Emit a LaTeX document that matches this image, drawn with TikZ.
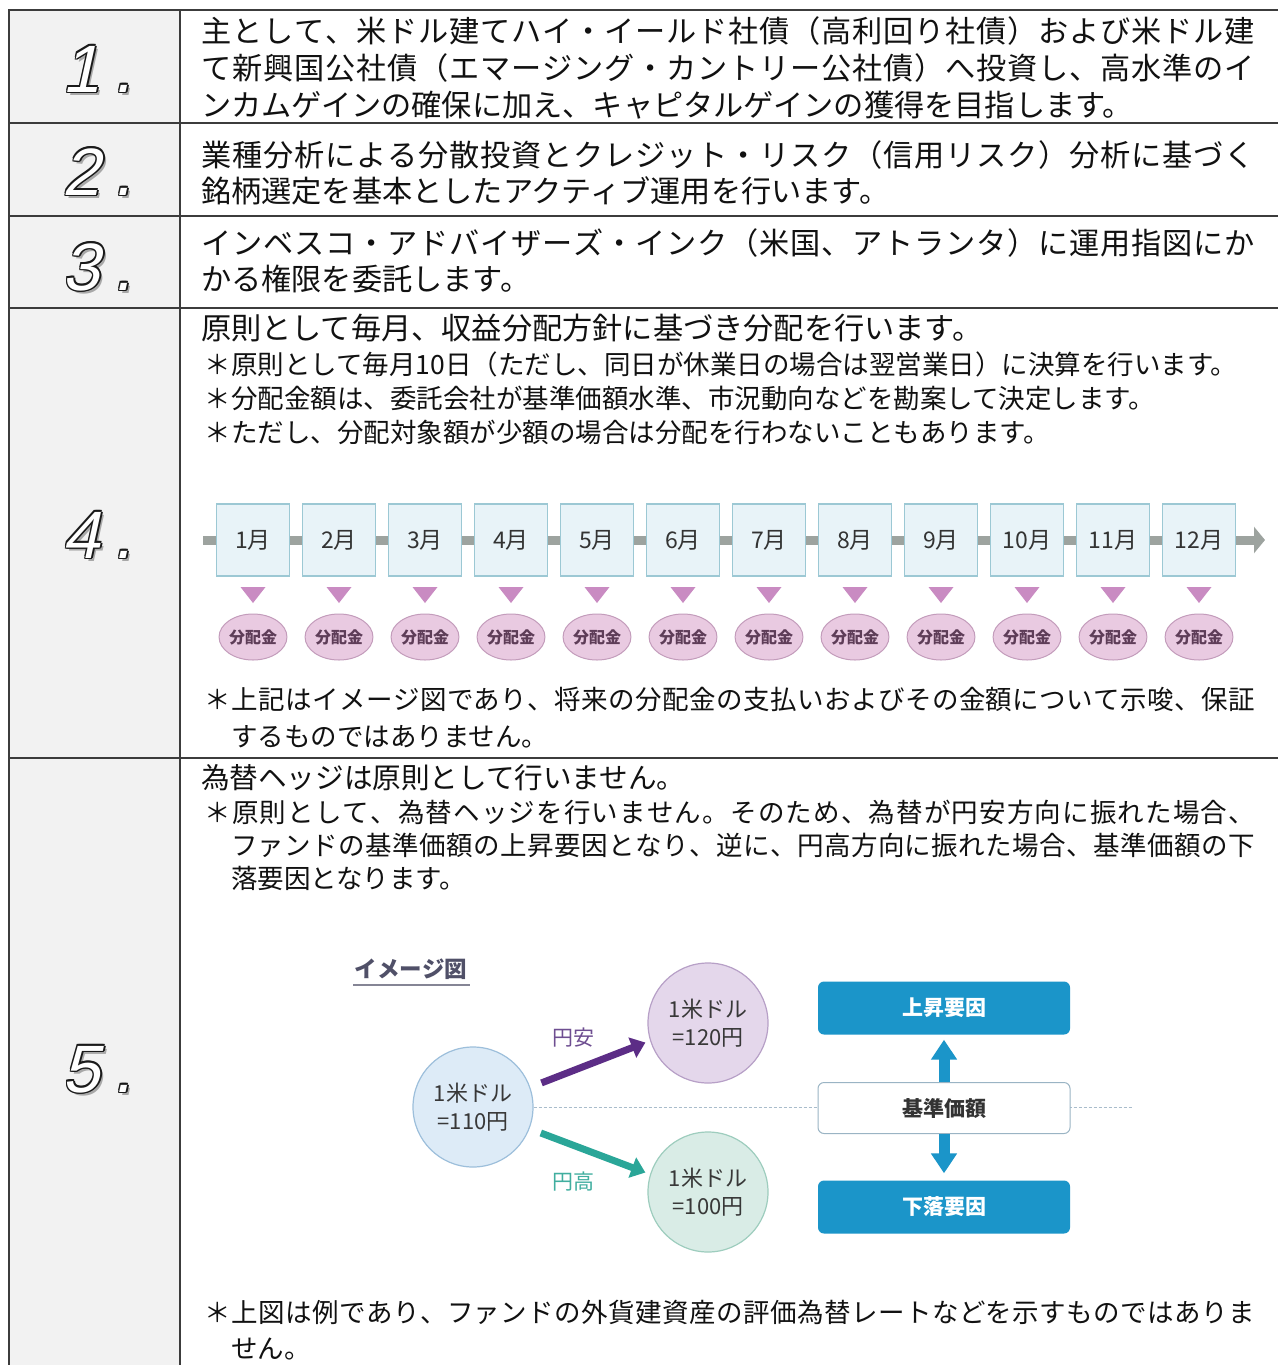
\documentclass[tikz,border=0pt]{standalone}
\usepackage{fontspec}
\setmainfont{Noto Sans CJK JP}
\newfontfamily\digitfnt[FakeSlant=0.22]{Liberation Sans}
\usetikzlibrary{arrows.meta,shapes.geometric,calc}

\def\sprdEnd{}
\def\sprd#1{\sprdA#1\sprdEnd}
\def\sprdA#1{\ifx#1\sprdEnd\else#1\expandafter\sprdB\fi}
\def\sprdB#1{\ifx#1\sprdEnd\else\hfil#1\expandafter\sprdB\fi}
\newcommand\jl[2]{\hbox to #1{\sprd{#2}}}

\definecolor{tblc}{HTML}{3C3C3C}
\definecolor{leftfill}{HTML}{F2F2F2}
\definecolor{textc}{HTML}{111111}
\definecolor{numshadow}{HTML}{A8A8A8}
\definecolor{numline}{HTML}{1A1A1A}
\definecolor{mfill}{HTML}{E8F3F8}
\definecolor{mdraw}{HTML}{9CC8D4}
\definecolor{tlgray}{HTML}{9DA39F}
\definecolor{tripink}{HTML}{C98BC2}
\definecolor{efill}{HTML}{E9CAE1}
\definecolor{edraw}{HTML}{C39CBB}
\definecolor{etext}{HTML}{5E3D58}
\definecolor{cblue}{HTML}{DDEBF7}
\definecolor{cbluedraw}{HTML}{9DBFDB}
\definecolor{cpurple}{HTML}{E4D7EB}
\definecolor{cpurpledraw}{HTML}{B7A0C7}
\definecolor{cgreen}{HTML}{D9ECE6}
\definecolor{cgreendraw}{HTML}{9ECDBE}
\definecolor{parrow}{HTML}{5C2D86}
\definecolor{tarrow}{HTML}{2AA698}
\definecolor{ptext}{HTML}{6E4E91}
\definecolor{ttext}{HTML}{40AE9F}
\definecolor{bbox}{HTML}{1B95C9}
\definecolor{kdraw}{HTML}{9AB4C4}
\definecolor{dotc}{HTML}{A9BCCB}
\definecolor{imgtext}{HTML}{505068}

\tikzset{
  tbl/.style={draw=tblc, line width=2.4pt},
  txt/.style={anchor=base west, inner sep=0pt, outer sep=0pt, text=textc},
  mainA/.style={txt, font=\fontsize{30.2}{36}\selectfont},
  mainB/.style={txt, font=\fontsize{28.6}{34}\selectfont},
  noteA/.style={txt, font=\fontsize{26.5}{31}\selectfont},
  digitA/.style={anchor=base west, inner sep=0pt, outer sep=0pt, font=\digitfnt\fontsize{67}{67}\selectfont},
  monthbox/.style={draw=mdraw, fill=mfill, line width=1.2pt, minimum width=73pt, minimum height=72pt, inner sep=0pt, text=black!80, font=\fontsize{23}{23}\selectfont},
  divell/.style={ellipse, draw=edraw, fill=efill, line width=1pt, minimum width=66pt, minimum height=46pt, inner sep=0pt, text=etext, font=\bfseries\fontsize{16}{16}\selectfont},
  ratecirc/.style={circle, minimum size=120pt, line width=1.2pt, inner sep=0pt, align=center, text=black!78, font=\fontsize{22}{28}\selectfont},
  facbox/.style={rounded corners=6pt, minimum width=252pt, minimum height=53pt, inner sep=0pt, fill=bbox, text=white, font=\bfseries\fontsize{21}{21}\selectfont},
  fatarrow/.style={line width=7pt, -{Triangle[length=14pt,width=21pt]}},
  bluearrow/.style={draw=bbox, line width=11pt, -{Triangle[length=20pt,width=25pt]}},
}

\begin{document}
\begin{tikzpicture}[x=1pt,y=-1pt]
\useasboundingbox (0,0) rectangle (1278,1365);
\fill[white] (0,0) rectangle (1278,1365);
\fill[leftfill] (9,10) rectangle (180,1365);

% table lines
\draw[tbl] (9,1366) -- (9,10) -- (1278,10);
\draw[tbl] (180,10) -- (180,1366);
\foreach \yy in {123,216,308,758} \draw[tbl] (9,\yy) -- (1278,\yy);

% outlined numbers (gray shadow, dark outline ring, white face)
\foreach \n/\yy in {1/92,2/195,3/290,4/558,5/1092} {
  \node[digitA, text=numshadow] (sh\n) at ($(62.5,\yy)+(3,3)$) {\n\hspace{14pt}.};
  \foreach \a in {0,45,...,315}
    \node[digitA, text=numline] (ol\n-\a) at ($(62.5,\yy)+(\a:1.5)$) {\n\hspace{14pt}.};
  \node[digitA, text=white] (num\n) at (62.5,\yy) {\n\hspace{14pt}.};
}

% row 1
\node[mainA] (r1a) at (201,42.5) {\jl{1054pt}{主として、米ドル建てハイ・イールド社債（高利回り社債）および米ドル建}};
\node[mainA] (r1b) at (201,79.5) {\jl{1054pt}{て新興国公社債（エマージング・カントリー公社債）へ投資し、高水準のイ}};
\node[mainA] (r1c) at (201,116.5) {ンカムゲインの確保に加え、キャピタルゲインの獲得を目指します。};
% row 2
\node[mainA] (r2a) at (201,166.5) {\jl{1054pt}{業種分析による分散投資とクレジット・リスク（信用リスク）分析に基づく}};
\node[mainA] (r2b) at (201,202.5) {銘柄選定を基本としたアクティブ運用を行います。};
% row 3
\node[mainA] (r3a) at (201,254.5) {\jl{1054pt}{インベスコ・アドバイザーズ・インク（米国、アトランタ）に運用指図にか}};
\node[mainA] (r3b) at (201,290.5) {かる権限を委託します。};
% row 4
\node[mainA] (r4a) at (201,339.5) {原則として毎月、収益分配方針に基づき分配を行います。};
\node[noteA] (r4b) at (204.5,374) {＊原則として毎月10日（ただし、同日が休業日の場合は翌営業日）に決算を行います。};
\node[noteA] (r4c) at (204.5,408) {＊分配金額は、委託会社が基準価額水準、市況動向などを勘案して決定します。};
\node[noteA] (r4d) at (204.5,442) {＊ただし、分配対象額が少額の場合は分配を行わないこともあります。};

% timeline
\coordinate (tlstart) at (203,540);
\coordinate (tlend) at (1265,540);
\draw[tlgray, line width=9pt, -{Triangle[length=11pt,width=26pt]}] (tlstart) -- (tlend);
\foreach \i in {1,...,12} {
  \node[monthbox] (m\i) at ({253+86*(\i-1)},540) {\i{}月};
  \fill[tripink] ({253+86*(\i-1)-12.5},587) -- ({253+86*(\i-1)+12.5},587) -- ({253+86*(\i-1)},603) -- cycle;
  \node[divell] (d\i) at ({253+86*(\i-1)},637) {分配金};
}

\node[noteA] (r4e) at (204.5,709) {\jl{1050.5pt}{＊上記はイメージ図であり、将来の分配金の支払いおよびその金額について示唆、保証}};
\node[noteA] (r4f) at (231,746) {するものではありません。};

% row 5
\node[mainB] (r5a) at (201,788) {為替ヘッジは原則として行いません。};
\node[noteA] (r5b) at (204.5,822) {\jl{1050.5pt}{＊原則として、為替ヘッジを行いません。そのため、為替が円安方向に振れた場合、}};
\node[noteA] (r5c) at (231,855) {\jl{1024pt}{ファンドの基準価額の上昇要因となり、逆に、円高方向に振れた場合、基準価額の下}};
\node[noteA] (r5d) at (231,888) {落要因となります。};

% currency diagram
\node[text=imgtext, inner sep=0pt, font=\bfseries\fontsize{22.5}{22.5}\selectfont] (imgtitle) at (411,969) {イメージ図};
\draw[imgtext!70, line width=1.6pt] (353,985) -- (470,985);

\node[ratecirc, fill=cblue, draw=cbluedraw] (c110) at (473,1107) {1米ドル\\=110円};
\node[ratecirc, fill=cpurple, draw=cpurpledraw] (c120) at (708,1023) {1米ドル\\=120円};
\node[ratecirc, fill=cgreen, draw=cgreendraw] (c100) at (708,1192) {1米ドル\\=100円};

\coordinate (dotend) at (1133,1107);
\draw[dotc, line width=1pt, dash pattern=on 3pt off 2pt] (c110.east) -- (dotend);

\draw[fatarrow, parrow, shorten <=12pt, shorten >=5pt] (c110.19) -- (c120.197);
\draw[fatarrow, tarrow, shorten <=12pt, shorten >=5pt] (c110.-21) -- (c100.163);
\node[text=ptext, inner sep=0pt, font=\fontsize{21}{21}\selectfont] (yasu) at (573,1038) {円安};
\node[text=ttext, inner sep=0pt, font=\fontsize{21}{21}\selectfont] (daka) at (573,1182) {円高};

\node[facbox] (upf) at (944,1008) {上昇要因};
\node[facbox] (downf) at (944,1207) {下落要因};
\node[facbox, fill=white, draw=kdraw, line width=1pt, minimum height=51pt, text=black!80] (kijun) at (944,1108) {基準価額};
\draw[bluearrow, shorten >=5pt] (kijun.north) -- (upf.south);
\draw[bluearrow, shorten >=7pt] (kijun.south) -- (downf.north);

\node[noteA] (r5e) at (204.5,1322) {\jl{1050.5pt}{＊上図は例であり、ファンドの外貨建資産の評価為替レートなどを示すものではありま}};
\node[noteA] (r5f) at (231,1358) {せん。};
\end{tikzpicture}
\end{document}
